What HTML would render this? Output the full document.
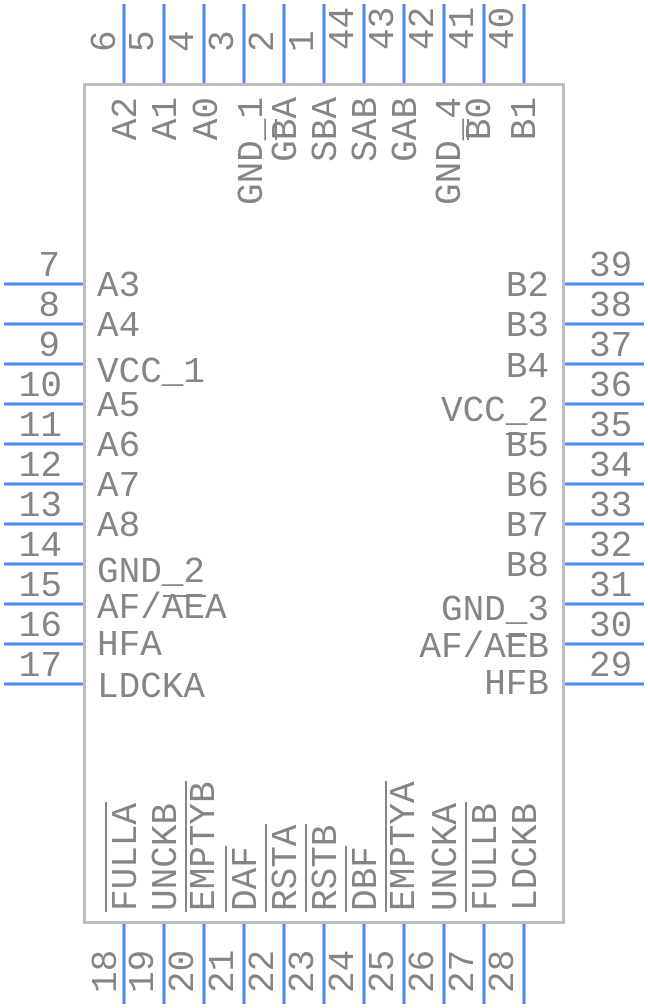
<!DOCTYPE html>
<html><head><meta charset="utf-8"><style>
html,body{margin:0;padding:0;background:#fff;}
svg{display:block}
text{font-family:"Liberation Mono",monospace;font-size:36px;fill:#858585;}
</style></head><body>
<svg width="648" height="1008" viewBox="0 0 648 1008" xmlns="http://www.w3.org/2000/svg">
<rect x="84.5" y="84.5" width="479" height="838" fill="#fff" stroke="#bdbdbd" stroke-width="3"/>
<g stroke="#4a8af0" stroke-width="3">
<line x1="124" y1="4" x2="124" y2="83"/><line x1="164" y1="4" x2="164" y2="83"/><line x1="204" y1="4" x2="204" y2="83"/><line x1="244" y1="4" x2="244" y2="83"/><line x1="284" y1="4" x2="284" y2="83"/><line x1="324" y1="4" x2="324" y2="83"/><line x1="364" y1="4" x2="364" y2="83"/><line x1="404" y1="4" x2="404" y2="83"/><line x1="444" y1="4" x2="444" y2="83"/><line x1="484" y1="4" x2="484" y2="83"/><line x1="524" y1="4" x2="524" y2="83"/>
<line x1="124" y1="924" x2="124" y2="1004"/><line x1="164" y1="924" x2="164" y2="1004"/><line x1="204" y1="924" x2="204" y2="1004"/><line x1="244" y1="924" x2="244" y2="1004"/><line x1="284" y1="924" x2="284" y2="1004"/><line x1="324" y1="924" x2="324" y2="1004"/><line x1="364" y1="924" x2="364" y2="1004"/><line x1="404" y1="924" x2="404" y2="1004"/><line x1="444" y1="924" x2="444" y2="1004"/><line x1="484" y1="924" x2="484" y2="1004"/><line x1="524" y1="924" x2="524" y2="1004"/>
<line x1="4" y1="284" x2="83" y2="284"/><line x1="4" y1="324" x2="83" y2="324"/><line x1="4" y1="364" x2="83" y2="364"/><line x1="4" y1="404" x2="83" y2="404"/><line x1="4" y1="444" x2="83" y2="444"/><line x1="4" y1="484" x2="83" y2="484"/><line x1="4" y1="524" x2="83" y2="524"/><line x1="4" y1="564" x2="83" y2="564"/><line x1="4" y1="604" x2="83" y2="604"/><line x1="4" y1="644" x2="83" y2="644"/><line x1="4" y1="684" x2="83" y2="684"/>
<line x1="565" y1="284" x2="644" y2="284"/><line x1="565" y1="324" x2="644" y2="324"/><line x1="565" y1="364" x2="644" y2="364"/><line x1="565" y1="404" x2="644" y2="404"/><line x1="565" y1="444" x2="644" y2="444"/><line x1="565" y1="484" x2="644" y2="484"/><line x1="565" y1="524" x2="644" y2="524"/><line x1="565" y1="564" x2="644" y2="564"/><line x1="565" y1="604" x2="644" y2="604"/><line x1="565" y1="644" x2="644" y2="644"/><line x1="565" y1="684" x2="644" y2="684"/>
</g>

<g text-anchor="end">
<text x="60" y="276">7</text><text x="60" y="316">8</text><text x="60" y="356">9</text><text x="62" y="396">10</text><text x="62" y="436">11</text><text x="62" y="476">12</text><text x="62" y="516">13</text><text x="62" y="556">14</text><text x="62" y="596">15</text><text x="62" y="636">16</text><text x="62" y="676">17</text>
</g>
<g>
<text x="589" y="276">39</text><text x="589" y="316">38</text><text x="589" y="356">37</text><text x="589" y="396">36</text><text x="589" y="436">35</text><text x="589" y="476">34</text><text x="589" y="516">33</text><text x="589" y="556">32</text><text x="589" y="596">31</text><text x="589" y="636">30</text><text x="589" y="676">29</text>
</g>
<g>
<text x="97" y="296">A3</text><text x="97" y="336">A4</text><text x="97" y="382">VCC_1</text><text x="97" y="416">A5</text><text x="97" y="456">A6</text><text x="97" y="496">A7</text><text x="97" y="536">A8</text><text x="97" y="582">GND_2</text><text x="97" y="618">AF/AEA</text><text x="97" y="655">HFA</text><text x="97" y="697">LDCKA</text>
</g>
<g text-anchor="end">
<text x="549" y="296">B2</text><text x="549" y="336">B3</text><text x="549" y="377">B4</text><text x="549" y="421">VCC_2</text><text x="549" y="456">B5</text><text x="549" y="496">B6</text><text x="549" y="536">B7</text><text x="549" y="576">B8</text><text x="549" y="620">GND_3</text><text x="549" y="657">AF/AEB</text><text x="549" y="694">HFB</text>
</g>
<g stroke="#858585" stroke-width="2">
<line x1="163" y1="596" x2="206" y2="596"/>
<line x1="506" y1="636" x2="527" y2="636"/>
<line x1="506" y1="434" x2="527" y2="434"/>
</g>

<g>
<text transform="translate(115,52) rotate(-90)">6</text>
<text transform="translate(153,52) rotate(-90)">5</text>
<text transform="translate(193,52) rotate(-90)">4</text>
<text transform="translate(233,52) rotate(-90)">3</text>
<text transform="translate(273,52) rotate(-90)">2</text>
<text transform="translate(313,52) rotate(-90)">1</text>
<text transform="translate(353,50) rotate(-90)">44</text>
<text transform="translate(393,50) rotate(-90)">43</text>
<text transform="translate(433,50) rotate(-90)">42</text>
<text transform="translate(473,50) rotate(-90)">41</text>
<text transform="translate(513,50) rotate(-90)">40</text>
</g>
<g text-anchor="end">
<text transform="translate(136,97) rotate(-90)">A2</text>
<text transform="translate(176,97) rotate(-90)">A1</text>
<text transform="translate(217,97) rotate(-90)">A0</text>
<text transform="translate(262,97) rotate(-90)">GND_1</text>
<text transform="translate(296,97) rotate(-90)">GBA</text>
<text transform="translate(336,97) rotate(-90)">SBA</text>
<text transform="translate(376,97) rotate(-90)">SAB</text>
<text transform="translate(416,97) rotate(-90)">GAB</text>
<text transform="translate(460,97) rotate(-90)">GND_4</text>
<text transform="translate(490,97) rotate(-90)">B0</text>
<text transform="translate(535,97) rotate(-90)">B1</text>
</g>
<g stroke="#858585" stroke-width="2">
<line x1="276" y1="119" x2="276" y2="140"/>
<line x1="468" y1="119" x2="468" y2="140"/>
</g>

<g>
<text transform="translate(136,911) rotate(-90)">FULLA</text>
<text transform="translate(176,911) rotate(-90)">UNCKB</text>
<text transform="translate(214,911) rotate(-90)">EMPTYB</text>
<text transform="translate(256,911) rotate(-90)">DAF</text>
<text transform="translate(296,911) rotate(-90)">RSTA</text>
<text transform="translate(336,911) rotate(-90)">RSTB</text>
<text transform="translate(376,911) rotate(-90)">DBF</text>
<text transform="translate(414,911) rotate(-90)">EMPTYA</text>
<text transform="translate(456,911) rotate(-90)">UNCKA</text>
<text transform="translate(496,911) rotate(-90)">FULLB</text>
<text transform="translate(536,911) rotate(-90)">LDCKB</text>
</g>
<g stroke="#858585" stroke-width="2">
<line x1="106" y1="802" x2="106" y2="912"/>
<line x1="186" y1="781" x2="186" y2="912"/>
<line x1="226" y1="846" x2="226" y2="912"/>
<line x1="266" y1="824" x2="266" y2="912"/>
<line x1="306" y1="824" x2="306" y2="912"/>
<line x1="346" y1="846" x2="346" y2="912"/>
<line x1="386" y1="781" x2="386" y2="912"/>
<line x1="466" y1="802" x2="466" y2="912"/>
</g>
<g>
<text transform="translate(116,993) rotate(-90)">18</text>
<text transform="translate(153,993) rotate(-90)">19</text>
<text transform="translate(193,993) rotate(-90)">20</text>
<text transform="translate(233,993) rotate(-90)">21</text>
<text transform="translate(273,993) rotate(-90)">22</text>
<text transform="translate(313,993) rotate(-90)">23</text>
<text transform="translate(353,993) rotate(-90)">24</text>
<text transform="translate(393,993) rotate(-90)">25</text>
<text transform="translate(433,993) rotate(-90)">26</text>
<text transform="translate(473,993) rotate(-90)">27</text>
<text transform="translate(513,993) rotate(-90)">28</text>
</g>
</svg>
</body></html>
